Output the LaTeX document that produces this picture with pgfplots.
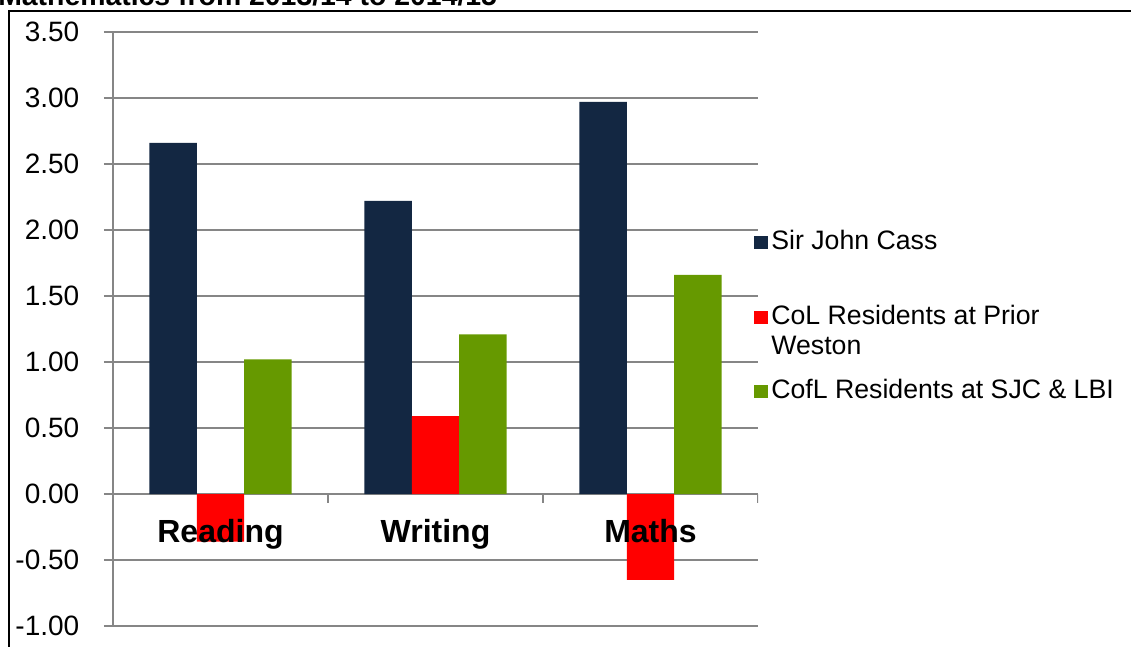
\documentclass[border=0pt]{standalone}
\usepackage{pgfplots}
\pgfplotsset{compat=1.18}
\usepackage{fontspec}
\setmainfont{Liberation Sans}
\definecolor{navy}{RGB}{19,39,66}
\definecolor{myred}{RGB}{255,0,0}
\definecolor{mygreen}{RGB}{102,153,0}
\definecolor{gridgray}{RGB}{134,134,134}
\begin{document}
\begin{tikzpicture}
\useasboundingbox (0,0) rectangle (848.25pt,484.5pt);
\clip (0,0) rectangle (848.25pt,484.5pt);
\node[anchor=base west, inner sep=0pt, font=\bfseries\fontsize{21.3}{25}\selectfont] at (-1.5pt,480pt) {Mathematics from 2013/14 to 2014/15};
\draw[line width=1.5pt] (6.75pt,-20pt) -- (6.75pt,476.25pt) -- (900pt,476.25pt);
\begin{axis}[
  at={(84.75pt,15pt)}, anchor=south west,
  scale only axis, width=483.75pt, height=445.5pt,
  xmin=-0.5, xmax=2.5, ymin=-1, ymax=3.5,
  ybar=0pt, bar width=35.6pt,
  axis x line=none, axis y line*=left,
  y axis line style={gridgray, line width=1pt},
  ytick={-1,-0.5,0,0.5,1,1.5,2,2.5,3,3.5},
  ymajorgrids, major grid style={gridgray, line width=1pt},
  tick align=outside, major tick length=6.75pt,
  ytick style={gridgray, line width=1pt},
  /pgf/number format/assume math mode=true,
  yticklabel style={font=\fontsize{21}{24}\selectfont, xshift=-15pt, /pgf/number format/fixed, /pgf/number format/fixed zerofill, /pgf/number format/precision=2},
  legend style={at={(rel axis cs:0.9938,0.6667)}, anchor=north west, draw=none, fill=none, inner sep=0pt, row sep=0pt,
    font=\fontsize{20}{22.5}\selectfont, cells={anchor=base west},
    nodes={inner xsep=2.6pt, inner ysep=0pt, text depth=}},
  legend image code/.code={\path[#1,draw=none] (0pt,0.75pt) rectangle (10.25pt,10.5pt);},
]
\draw[gridgray, line width=1pt] (axis cs:0.5,0) -- ++(0pt,-6.75pt);
\draw[gridgray, line width=1pt] (axis cs:1.5,0) -- ++(0pt,-6.75pt);
\draw[gridgray, line width=1pt] (axis cs:2.5,0) -- ++(0pt,-6.75pt);
\draw[gridgray, line width=1pt] (axis cs:-0.5,0) -- ++(0pt,-6.75pt);
\addplot[fill=navy, draw=none] coordinates {(0,2.66) (1,2.22) (2,2.97)};
\addlegendentry{\rule[-42pt]{0pt}{15pt}Sir John Cass}
\addplot[fill=myred, draw=none] coordinates {(0,-0.36) (1,0.59) (2,-0.65)};
\addlegendentry{\rule[-40.5pt]{0pt}{15pt}\parbox[t]{250pt}{CoL Residents at Prior\\Weston}}
\addplot[fill=mygreen, draw=none] coordinates {(0,1.02) (1,1.21) (2,1.66)};
\addlegendentry{\rule{0pt}{15pt}CofL Residents at SJC \& LBI}
\node[anchor=base, font=\bfseries\fontsize{24}{28}\selectfont] at (axis cs:0,-0.371) {Reading};
\node[anchor=base, font=\bfseries\fontsize{24}{28}\selectfont] at (axis cs:1,-0.371) {Writing};
\node[anchor=base, font=\bfseries\fontsize{24}{28}\selectfont] at (axis cs:2,-0.371) {Maths};
\end{axis}
\end{tikzpicture}
\end{document}
